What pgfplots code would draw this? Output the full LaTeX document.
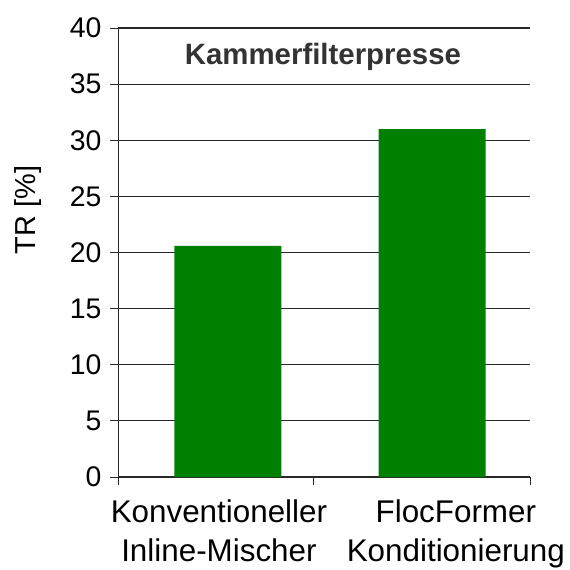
\documentclass[border=0pt]{standalone}
\usepackage{pgfplots}
\pgfplotsset{compat=1.18}
\usepackage{fontspec}
\setmainfont{Liberation Sans}
\definecolor{bargreen}{RGB}{0,128,0}
\definecolor{gridc}{RGB}{40,40,40}
\begin{document}
\begin{tikzpicture}[x=1bp,y=1bp]
\path[use as bounding box] (-118bp,-93bp) rectangle (452bp,477bp);
\begin{axis}[
  at={(0,0)}, anchor=south west,
  scale only axis,
  width=412bp, height=449bp,
  xmin=0, xmax=2, ymin=0, ymax=40,
  axis lines=left,
  axis line style={-, gridc, line width=0.8bp},
  ytick={0,5,...,40},
  ymajorgrids,
  grid style={gridc, line width=1.1bp},
  major tick style={gridc, line width=0.8bp},
  /pgf/number format/assume math mode=true,
  y tick label style={font=\fontsize{28.5}{32}\selectfont, xshift=-5bp},
  tick align=outside,
  major tick length=8bp,
  xtick={0,0.95,2},
  xticklabels={},
  clip=false,
]
\addplot[ybar, bar width=107bp, fill=bargreen, draw=none] coordinates {(0.533,20.6) (1.525,31.0)};
\node[font=\bfseries\fontsize{29.5}{34}\selectfont, text=black!80] at (axis cs:0.995,37.45) {Kammerfilterpresse};
\node[rotate=90, anchor=base, font=\fontsize{29}{34}\selectfont] at (axis description cs:-0.1995,0.5947) {TR [\%]};
\node[anchor=north, inner sep=0pt, align=center, font=\fontsize{31.5}{39}\selectfont] at ([yshift=-23bp]axis cs:0.49,0) {Konventioneller\\Inline-Mischer};
\node[anchor=north, inner sep=0pt, align=center, font=\fontsize{31.5}{39}\selectfont] at ([yshift=-23bp]axis cs:1.64,0) {FlocFormer\\Konditionierung};
\end{axis}
\end{tikzpicture}
\end{document}
